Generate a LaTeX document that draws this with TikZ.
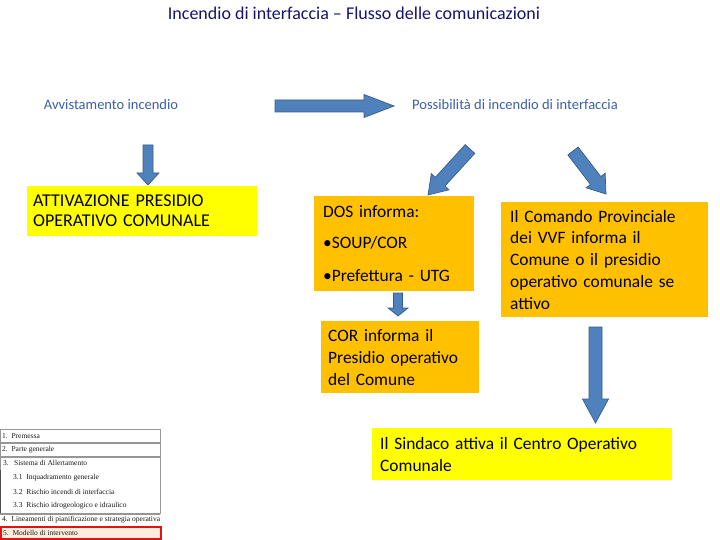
\documentclass[tikz,border=0pt]{standalone}
\usepackage{fontspec}
\setmainfont{Carlito}
\newfontfamily\tabfont{Liberation Serif}
\usetikzlibrary{calc}
\definecolor{arrowfill}{HTML}{4F81BD}
\definecolor{arrowline}{HTML}{385D8A}
\definecolor{boxyellow}{HTML}{FFFF00}
\definecolor{boxorange}{HTML}{FFC000}
\definecolor{titlenavy}{RGB}{20,20,110}
\definecolor{labelblue}{RGB}{60,95,165}
\definecolor{tabgray}{RGB}{150,150,150}
\definecolor{tabred}{RGB}{225,20,20}
\definecolor{tabpeach}{RGB}{252,236,222}
\tikzset{
  barrow/.style={draw=arrowline, fill=arrowfill, line width=0.7pt, line join=miter},
  infobox/.style={rectangle, anchor=north west, inner ysep=0pt, align=left, text=black},
  boxfont/.style={font=\fontsize{17.4}{#1}\selectfont},
  toplabel/.style={text=labelblue, inner sep=0pt, font=\fontsize{14.5}{17}\selectfont},
  tabtext/.style={anchor=west, inner sep=0pt, font=\tabfont\fontsize{7.5}{8.5}\selectfont, text=black!90},
  tabrow/.style={draw=tabgray, line width=0.6pt},
}
% block arrow from coordinate #1 to coordinate #2:
% #3 shaft half width, #4 head half width, #5 head length (pt)
\newcommand{\blockarrow}[5]{%
  \path[barrow] let \p1=(#1), \p2=(#2),
    \n1={atan2(\y2-\y1,\x2-\x1)}, \n2={veclen(\x2-\x1,\y2-\y1)} in
    [shift={(\p1)}, rotate=\n1]
    (0pt,-#3pt) -- ({\n2-#5},-#3pt) -- ({\n2-#5},-#4pt) -- (\n2,0pt)
    -- ({\n2-#5},#4pt) -- ({\n2-#5},#3pt) -- (0pt,#3pt) -- cycle;
}
\begin{document}
\begin{tikzpicture}[x=1pt,y=-1pt]
\useasboundingbox[fill=white] (0,0) rectangle (720,540);

% title
\node[text=titlenavy, inner sep=0pt, font=\fontsize{18}{20}\selectfont] (title) at (354,13)
  {Incendio di interfaccia -- Flusso delle comunicazioni};

% top labels
\node[toplabel] (avv) at (111,105) {Avvistamento incendio};
\node[toplabel] (poss) at (515,105) {Possibilità di incendio di interfaccia};

% boxes
\node[infobox, font=\fontsize{18}{20}\selectfont, fill=boxyellow, inner xsep=6pt, text width=218pt, minimum height=50pt]
  (attiv) at (27,186) {ATTIVAZIONE PRESIDIO\\OPERATIVO COMUNALE};
\node[infobox, boxfont=21.7, fill=boxorange, inner xsep=9pt, text width=142pt, minimum height=95pt]
  (dos) at (314,196) {DOS informa:\\[9pt]•SOUP/COR\\[11pt]•Prefettura - UTG};
\node[infobox, boxfont=21.7, fill=boxorange, inner xsep=9pt, text width=189pt, minimum height=115pt]
  (comando) at (501,202) {Il Comando Provinciale\\dei VVF informa il\\Comune o il presidio\\operativo comunale se\\attivo};
\node[infobox, boxfont=22, fill=boxorange, inner xsep=7pt, text width=144pt, minimum height=72pt]
  (cor) at (321,321) {COR informa il\\Presidio operativo\\del Comune};
\node[infobox, boxfont=22, fill=boxyellow, inner xsep=8pt, text width=284pt, minimum height=52pt]
  (sindaco) at (372,428) {Il Sindaco attiva il Centro Operativo\\Comunale};

% arrow end points
\coordinate (a1s) at (275,106);   \coordinate (a1e) at (394,106);
\coordinate (a2s) at (148,145);   \coordinate (a2e) at (148,185);
\coordinate (a3s) at (470,149);   \coordinate (a3e) at (428,195);
\coordinate (a4s) at (573,151);   \coordinate (a4e) at (606,194);
\coordinate (a5s) at (398,293);   \coordinate (a5e) at (398,316);
\coordinate (a6s) at (595.5,327); \coordinate (a6e) at (595.5,423);

\blockarrow{a1s}{a1e}{6}{11.5}{30}
\blockarrow{a2s}{a2e}{5}{11}{12}
\blockarrow{a3s}{a3e}{6.5}{12}{18}
\blockarrow{a4s}{a4e}{6.5}{12}{17}
\blockarrow{a5s}{a5e}{4.5}{10}{8}
\blockarrow{a6s}{a6e}{6.5}{13}{24}

% table of contents (bottom left)
\draw[tabrow] (0,429) rectangle (160,442);
\draw[tabrow] (0,443) rectangle (160,456);
\draw[tabrow] (0,457) rectangle (160,513);
\draw[draw=black!70, line width=1pt] (0.5,470) -- (0.5,513);
\draw[tabrow] (0,514) -- (160,514);
\draw[draw=tabred, fill=tabpeach, line width=2pt] (1,527) rectangle (161,539);

\node[tabtext] (t1) at (2,436) {1.\ \ Premessa};
\node[tabtext] (t2) at (2,450) {2.\ \ Parte generale};
\node[tabtext] (t3) at (3,463) {3.};
\node[tabtext] (t3b) at (14,463) {Sistema di Allertamento};
\node[tabtext] (t31) at (13,478) {3.1\ \ Inquadramento generale};
\node[tabtext] (t32) at (13,492) {3.2\ \ Rischio incendi di interfaccia};
\node[tabtext] (t33) at (13,506) {3.3\ \ Rischio idrogeologico e idraulico};
\node[tabtext] (t4) at (2,520) {4.\ \ Lineamenti di pianificazione e strategia operativa};
\node[tabtext] (t5) at (3,533) {5.\ \ Modello di intervento};
\end{tikzpicture}
\end{document}
